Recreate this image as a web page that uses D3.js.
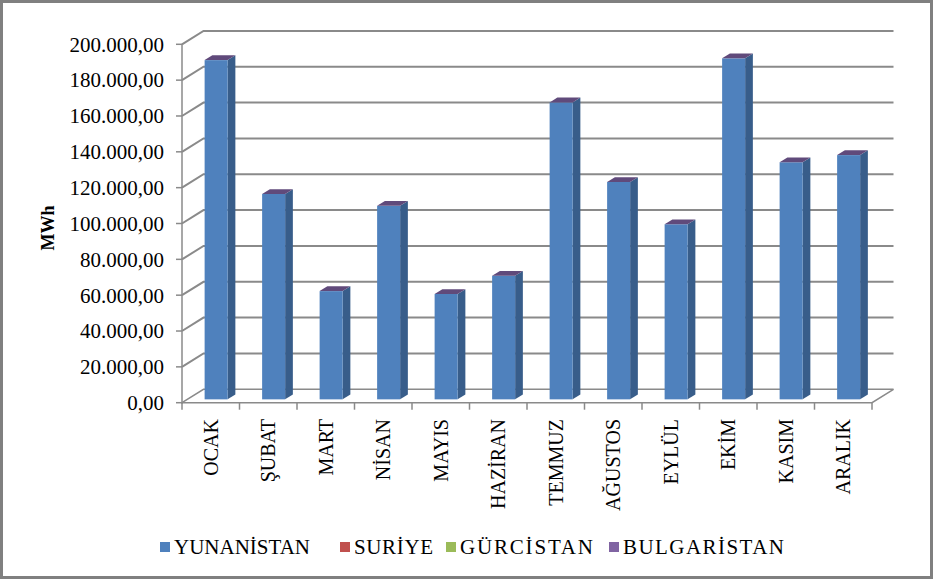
<!DOCTYPE html>
<html><head><meta charset="utf-8">
<script src="https://cdn.jsdelivr.net/npm/d3@7"></script>
<style>html,body{margin:0;padding:0;background:#fff}svg{display:block}</style>
</head><body>
<svg id="c" width="933" height="579"></svg>
<script>
const months = ["OCAK","ŞUBAT","MART","NİSAN","MAYIS","HAZİRAN","TEMMUZ","AĞUSTOS","EYLÜL","EKİM","KASIM","ARALIK"];
const yunanistan = [189300,114600,60400,108000,58800,69000,165700,121300,97700,190300,132300,136300];
const suriye = [0,0,0,0,0,0,0,0,0,0,0,0];
const gurcistan = [0,0,0,0,0,0,0,0,0,0,0,0];
const bulgaristan = [0,0,0,0,0,0,0,0,0,0,0,0];
const seriesNames = ["YUNANİSTAN","SURİYE","GÜRCİSTAN","BULGARİSTAN"];
const seriesColors = ["#4F81BD","#C0504D","#9BBB59","#8064A2"];
const yTicks = [0,20000,40000,60000,80000,100000,120000,140000,160000,180000,200000];
const yTickLabels = ["0,00","20.000,00","40.000,00","60.000,00","80.000,00","100.000,00","120.000,00","140.000,00","160.000,00","180.000,00","200.000,00"];

const svg = d3.select("#c");
const font = "'Liberation Serif','Times New Roman',serif";
svg.append("rect").attr("x",1.5).attr("y",1.5).attr("width",930).attr("height",576)
  .attr("fill","#fff").attr("stroke","#808080").attr("stroke-width",3);

const x = d3.scaleBand().domain(months).range([182,872]).paddingInner(0.6).paddingOuter(0.3);
const xb = d3.scaleBand().domain(months).range([182,872]);
const y = d3.scaleLinear().domain([0,200000]).range([402.7,44.3]);
const DX = 21.5, DY = -13.4;
const grid = "#8a8a8a";

const g = svg.append("g");
yTicks.forEach(v=>{
  const yy = y(v);
  g.append("path").attr("d",`M182,${yy}L${182+DX},${yy+DY}L${872+DX},${yy+DY}`)
   .attr("fill","none").attr("stroke",grid).attr("stroke-width",v===0?1.5:2);
});
g.append("path").attr("d",`M182,${y(0)}L872,${y(0)}L${872+DX},${y(0)+DY}`)
  .attr("fill","none").attr("stroke",grid).attr("stroke-width",1.5);
g.append("line").attr("x1",182).attr("x2",182).attr("y1",y(200000)).attr("y2",y(0)+1)
  .attr("stroke",grid).attr("stroke-width",1.5);
yTicks.forEach((v,i)=>{
  g.append("line").attr("x1",176).attr("x2",182).attr("y1",y(v)).attr("y2",y(v)).attr("stroke",grid).attr("stroke-width",1.5);
  g.append("text").attr("x",164).attr("y",y(v)).attr("dy","0.35em").attr("text-anchor","end")
   .attr("font-family",font).attr("font-size",21).attr("fill","#000").text(yTickLabels[i]);
});
months.forEach(m=>{
  const xx = xb(m);
  g.append("line").attr("x1",xx).attr("x2",xx).attr("y1",y(0)).attr("y2",y(0)+7).attr("stroke",grid).attr("stroke-width",1.5);
});
g.append("line").attr("x1",872).attr("x2",872).attr("y1",y(0)).attr("y2",y(0)+7).attr("stroke",grid).attr("stroke-width",1.5);

const t0 = 0.25, t1 = 0.61;
const bars = svg.append("g");
months.forEach((m,i)=>{
  const v = yunanistan[i]+suriye[i]+gurcistan[i]+bulgaristan[i];
  const x0 = x(m)+t0*DX, x1 = x0 + x.bandwidth();
  const yb = y(0)+t0*DY, yt = y(v)+t0*DY;
  const ddx = (t1-t0)*DX, ddy = (t1-t0)*DY;
  bars.append("path").attr("d",`M${x1},${yb}L${x1+ddx},${yb+ddy}L${x1+ddx},${yt+ddy}L${x1},${yt}Z`).attr("fill","#385D8A");
  bars.append("rect").attr("x",x0).attr("y",yt).attr("width",x1-x0).attr("height",yb-yt).attr("fill","#4F81BD");
  bars.append("path").attr("d",`M${x0},${yt}L${x1},${yt}L${x1+ddx},${yt+ddy}L${x0+ddx},${yt+ddy}Z`).attr("fill","#604A7B");
  svg.append("text").attr("transform",`translate(${xb(m)+xb.bandwidth()/2},419) rotate(-90)`)
    .attr("dy","0.35em").attr("text-anchor","end").attr("font-family",font).attr("font-size",20).attr("fill","#000").text(m);
});

svg.append("text").attr("transform",`translate(48,228) rotate(-90)`).attr("dy","0.35em").attr("text-anchor","middle")
  .attr("font-family",font).attr("font-size",18).attr("font-weight","bold").attr("fill","#000").text("MWh");

const legX = [160,340,446,609];
const legW = [136,79,133,161];
seriesNames.forEach((n,i)=>{
  svg.append("rect").attr("x",legX[i]).attr("y",542).attr("width",10).attr("height",10).attr("fill",seriesColors[i]);
  svg.append("text").attr("x",legX[i]+14).attr("y",547).attr("dy","0.35em").attr("font-family",font).attr("font-size",21)
    .attr("textLength",legW[i]).attr("lengthAdjust","spacing").attr("fill","#000").text(n);
});
</script>
</body></html>
